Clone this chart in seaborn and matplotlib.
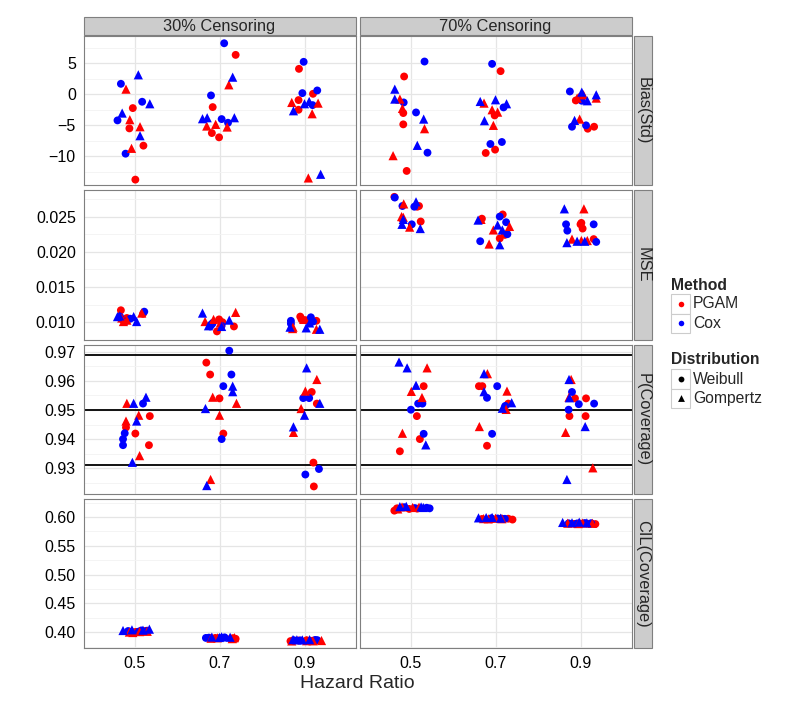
import numpy as np
import matplotlib
matplotlib.use('Agg')
import matplotlib.pyplot as plt
import pandas as pd
import seaborn as sns
from matplotlib.patches import Rectangle

hazard_ratios = [0.5, 0.7, 0.9]
censoring = ['30% Censoring', '70% Censoring']
measures = ['Bias(Std)', 'MSE', 'P(Coverage)', 'CIL(Coverage)']
method_names = ['PGAM', 'Cox']
dist_names = ['Weibull', 'Gompertz']

# order in each hazard ratio block (4 scenarios each):
# PGAM/Weibull, Cox/Weibull, PGAM/Gompertz, Cox/Gompertz
block_method = ['PGAM'] * 4 + ['Cox'] * 4 + ['PGAM'] * 4 + ['Cox'] * 4
block_dist = ['Weibull'] * 8 + ['Gompertz'] * 8

# jittered hazard ratio (x) and value (y) for each panel
bias30_hr = [0.496, 0.488, 0.521, 0.502, 0.468, 0.518, 0.460, 0.479,
             0.480, 0.489, 0.513, 0.493, 0.509, 0.536, 0.471, 0.513,
             0.738, 0.684, 0.682, 0.699, 0.711, 0.680, 0.705, 0.720,
             0.722, 0.670, 0.691, 0.718, 0.731, 0.660, 0.671, 0.735,
             0.887, 0.886, 0.920, 0.886, 0.898, 0.895, 0.930, 0.919,
             0.870, 0.932, 0.918, 0.909, 0.874, 0.900, 0.911, 0.938]
bias30_val = [-2.25, -5.52, -8.30, -13.77, 1.66, -1.23, -4.23, -9.59,
              0.80, -4.12, -5.25, -8.73, 3.11, -1.55, -3.05, -6.70,
              6.32, -2.09, -6.27, -6.96, 8.19, -0.21, -4.02, -4.61,
              1.50, -5.14, -4.87, -5.30, 2.73, -3.96, -3.80, -3.80,
              4.07, -0.96, 0.05, -2.52, 5.20, 0.16, 0.59, -1.77,
              -1.34, -1.45, -3.16, -13.50, -2.68, -1.55, -1.18, -12.91]

bias70_hr = [0.485, 0.483, 0.483, 0.491, 0.533, 0.484, 0.513, 0.540,
             0.475, 0.481, 0.533, 0.459, 0.463, 0.463, 0.531, 0.516,
             0.712, 0.698, 0.677, 0.699, 0.692, 0.719, 0.688, 0.715,
             0.673, 0.692, 0.695, 0.705, 0.664, 0.700, 0.726, 0.674,
             0.889, 0.901, 0.917, 0.932, 0.875, 0.903, 0.880, 0.913,
             0.892, 0.907, 0.937, 0.898, 0.903, 0.916, 0.886, 0.937]
bias70_val = [2.84, -3.05, -4.87, -12.37, 5.25, -1.34, -2.95, -9.43,
              -0.80, -2.30, -5.57, -9.91, 0.80, -0.80, -4.02, -8.25,
              3.70, -3.43, -9.48, -8.94, 4.87, -2.14, -8.03, -7.71,
              -1.45, -2.52, -5.03, -2.90, -1.18, -0.91, -1.55, -4.28,
              -1.02, -0.40, -5.57, -5.25, 0.43, -1.07, -5.25, -5.03,
              -0.64, -0.11, -0.64, -4.02, 0.32, -1.07, -4.23, -0.11]

mse30_hr = [0.468, 0.482, 0.473, 0.520, 0.466, 0.523, 0.478, 0.490,
            0.474, 0.482, 0.470, 0.517, 0.460, 0.498, 0.505, 0.465,
            0.694, 0.699, 0.707, 0.734, 0.678, 0.684, 0.705, 0.682,
            0.666, 0.738, 0.686, 0.702, 0.660, 0.723, 0.705, 0.674,
            0.890, 0.902, 0.928, 0.893, 0.868, 0.915, 0.868, 0.920,
            0.872, 0.928, 0.873, 0.898, 0.866, 0.904, 0.936, 0.912]
mse30_val = [0.0117, 0.0106, 0.0103, 0.0112, 0.0108, 0.0115, 0.0101, 0.0105,
             0.0101, 0.0103, 0.0106, 0.0113, 0.0108, 0.0108, 0.0101, 0.0109,
             0.0087, 0.0104, 0.0100, 0.0094, 0.0094, 0.0099, 0.0095, 0.0097,
             0.0101, 0.0114, 0.0104, 0.0099, 0.0113, 0.0103, 0.0094, 0.0095,
             0.0108, 0.0103, 0.0102, 0.0104, 0.0102, 0.0107, 0.0098, 0.0101,
             0.0091, 0.0090, 0.0093, 0.0104, 0.0093, 0.0092, 0.0090, 0.0099]

mse70_hr = [0.462, 0.520, 0.524, 0.516, 0.481, 0.509, 0.503, 0.463,
            0.484, 0.479, 0.498, 0.483, 0.513, 0.483, 0.480, 0.523,
            0.668, 0.717, 0.722, 0.710, 0.710, 0.725, 0.728, 0.664,
            0.666, 0.695, 0.733, 0.685, 0.659, 0.705, 0.716, 0.710,
            0.902, 0.905, 0.931, 0.900, 0.866, 0.931, 0.869, 0.937,
            0.908, 0.880, 0.902, 0.916, 0.862, 0.868, 0.892, 0.910]
mse70_val = [0.0278, 0.0265, 0.0243, 0.0264, 0.0265, 0.0264, 0.0239, 0.0277,
             0.0268, 0.0250, 0.0235, 0.0249, 0.0271, 0.0246, 0.0239, 0.0233,
             0.0247, 0.0253, 0.0224, 0.0219, 0.0250, 0.0242, 0.0225, 0.0215,
             0.0246, 0.0231, 0.0236, 0.0211, 0.0245, 0.0238, 0.0231, 0.0210,
             0.0241, 0.0233, 0.0218, 0.0239, 0.0239, 0.0239, 0.0230, 0.0214,
             0.0261, 0.0218, 0.0216, 0.0216, 0.0261, 0.0213, 0.0215, 0.0215]

cov30_hr = [0.536, 0.480, 0.502, 0.534, 0.520, 0.477, 0.473, 0.473,
            0.482, 0.480, 0.510, 0.512, 0.498, 0.527, 0.505, 0.495,
            0.669, 0.678, 0.700, 0.709, 0.723, 0.728, 0.709, 0.705,
            0.684, 0.740, 0.700, 0.679, 0.731, 0.731, 0.667, 0.670,
            0.917, 0.929, 0.921, 0.922, 0.897, 0.911, 0.902, 0.934,
            0.929, 0.902, 0.892, 0.874, 0.905, 0.900, 0.874, 0.936]
cov30_val = [0.9479, 0.9440, 0.9419, 0.9379, 0.9522, 0.9420, 0.9400, 0.9379,
             0.9523, 0.9462, 0.9482, 0.9343, 0.9523, 0.9544, 0.9462, 0.9320,
             0.9663, 0.9622, 0.9540, 0.9419, 0.9704, 0.9622, 0.9582, 0.9400,
             0.9544, 0.9523, 0.9482, 0.9261, 0.9582, 0.9563, 0.9505, 0.9240,
             0.9562, 0.9522, 0.9319, 0.9237, 0.9541, 0.9541, 0.9278, 0.9297,
             0.9605, 0.9565, 0.9505, 0.9423, 0.9645, 0.9482, 0.9442, 0.9523]

cov70_hr = [0.531, 0.515, 0.522, 0.475, 0.501, 0.518, 0.528, 0.531,
            0.539, 0.502, 0.527, 0.481, 0.473, 0.492, 0.513, 0.536,
            0.661, 0.669, 0.730, 0.680, 0.704, 0.680, 0.692, 0.723,
            0.681, 0.727, 0.725, 0.662, 0.673, 0.673, 0.716, 0.738,
            0.887, 0.913, 0.874, 0.912, 0.880, 0.872, 0.932, 0.896,
            0.878, 0.873, 0.865, 0.929, 0.873, 0.911, 0.868, 0.874]
cov70_val = [0.9582, 0.9479, 0.9400, 0.9358, 0.9501, 0.9522, 0.9522, 0.9418,
             0.9645, 0.9564, 0.9543, 0.9420, 0.9665, 0.9645, 0.9585, 0.9380,
             0.9582, 0.9582, 0.9522, 0.9377, 0.9582, 0.9542, 0.9418, 0.9514,
             0.9625, 0.9565, 0.9502, 0.9443, 0.9625, 0.9563, 0.9506, 0.9525,
             0.9540, 0.9540, 0.9479, 0.9479, 0.9562, 0.9501, 0.9522, 0.9520,
             0.9605, 0.9544, 0.9423, 0.9301, 0.9605, 0.9443, 0.9261, 0.9542]

cil30_hr = [0.497, 0.527, 0.503, 0.521, 0.516, 0.530, 0.510, 0.485,
            0.496, 0.512, 0.488, 0.530, 0.473, 0.494, 0.535, 0.520,
            0.727, 0.733, 0.738, 0.690, 0.668, 0.675, 0.700, 0.712,
            0.680, 0.735, 0.730, 0.695, 0.682, 0.705, 0.700, 0.725,
            0.867, 0.885, 0.915, 0.905, 0.875, 0.890, 0.925, 0.930,
            0.870, 0.905, 0.940, 0.920, 0.873, 0.882, 0.912, 0.895]
cil30_val = [0.3995, 0.4023, 0.4005, 0.4018, 0.4030, 0.4025, 0.4010, 0.4020,
             0.3994, 0.4010, 0.4002, 0.4015, 0.4029, 0.4041, 0.4052, 0.4035,
             0.3890, 0.3895, 0.3885, 0.3900, 0.3900, 0.3905, 0.3898, 0.3910,
             0.3895, 0.3905, 0.3888, 0.3902, 0.3915, 0.3920, 0.3908, 0.3912,
             0.3845, 0.3855, 0.3850, 0.3860, 0.3860, 0.3858, 0.3865, 0.3862,
             0.3848, 0.3852, 0.3855, 0.3850, 0.3872, 0.3868, 0.3870, 0.3866]

cil70_hr = [0.462, 0.468, 0.497, 0.516, 0.485, 0.510, 0.538, 0.545,
            0.470, 0.480, 0.505, 0.520, 0.475, 0.490, 0.525, 0.530,
            0.668, 0.690, 0.730, 0.740, 0.705, 0.715, 0.722, 0.690,
            0.672, 0.683, 0.700, 0.715, 0.660, 0.678, 0.692, 0.712,
            0.885, 0.900, 0.918, 0.935, 0.872, 0.892, 0.910, 0.925,
            0.870, 0.895, 0.905, 0.928, 0.858, 0.880, 0.897, 0.915]
cil70_val = [0.6110, 0.6150, 0.6140, 0.6145, 0.6170, 0.6155, 0.6160, 0.6150,
             0.6140, 0.6175, 0.6165, 0.6170, 0.6180, 0.6185, 0.6175, 0.6165,
             0.5965, 0.5960, 0.5970, 0.5955, 0.5975, 0.5970, 0.5968, 0.5978,
             0.5972, 0.5968, 0.5978, 0.5970, 0.5985, 0.5990, 0.5992, 0.5980,
             0.5880, 0.5885, 0.5882, 0.5878, 0.5890, 0.5888, 0.5895, 0.5892,
             0.5892, 0.5886, 0.5895, 0.5890, 0.5905, 0.5900, 0.5910, 0.5898]

coverage_band = [0.931, 0.95, 0.969]

panel_data = {
    ('Bias(Std)', 0): (bias30_hr, bias30_val),
    ('Bias(Std)', 1): (bias70_hr, bias70_val),
    ('MSE', 0): (mse30_hr, mse30_val),
    ('MSE', 1): (mse70_hr, mse70_val),
    ('P(Coverage)', 0): (cov30_hr, cov30_val),
    ('P(Coverage)', 1): (cov70_hr, cov70_val),
    ('CIL(Coverage)', 0): (cil30_hr, cil30_val),
    ('CIL(Coverage)', 1): (cil70_hr, cil70_val),
}

# y scale of each row: limits, major ticks, label format
row_axis = {
    'Bias(Std)': ((-14.7, 9.36), [-10, -5, 0, 5], '{:g}'),
    'MSE': ((0.00752, 0.02873), [0.010, 0.015, 0.020, 0.025], '{:.3f}'),
    'P(Coverage)': ((0.9211, 0.9725), [0.93, 0.94, 0.95, 0.96, 0.97], '{:.2f}'),
    'CIL(Coverage)': ((0.372, 0.6314), [0.40, 0.45, 0.50, 0.55, 0.60], '{:.2f}'),
}

palette = {'PGAM': '#ff0000', 'Cox': '#0000ff'}
marker_of = {'Weibull': 'o', 'Gompertz': '^'}
size_of = {'Weibull': 32, 'Gompertz': 44}

sns.set_style('white')
plt.rcParams['font.family'] = ['Liberation Sans', 'DejaVu Sans']

W, H = 800, 703
fig = plt.figure(figsize=(W / 100, H / 100), dpi=100)


def frac(x0, y0, x1, y1):
    # pixel box (top-left origin) -> figure fraction
    return [x0 / W, 1 - y1 / H, (x1 - x0) / W, (y1 - y0) / H]


col_x = [(83.5, 355.5), (359.5, 631.5)]
row_top = [36, 190.3, 344.6, 498.9]
row_h = 149.4
grey50 = '#7f7f7f'

for r, meas in enumerate(measures):
    lims, ticks, fmt = row_axis[meas]
    for c in range(2):
        x0, x1 = col_x[c]
        ax = fig.add_axes(frac(x0, row_top[r], x1, row_top[r] + row_h))
        hr, val = panel_data[(meas, c)]
        df = pd.DataFrame({'hr': hr, 'value': val,
                           'Method': block_method * 3,
                           'Distribution': block_dist * 3})
        ax.set_xlim(0.38, 1.02)
        ax.set_ylim(*lims)
        ax.set_xticks(hazard_ratios)
        ax.set_yticks(ticks)
        step = ticks[1] - ticks[0]
        minor = np.arange(ticks[0] - step / 2, lims[1], step)
        ax.set_yticks([m for m in minor if lims[0] < m < lims[1]], minor=True)
        ax.grid(True, which='major', color='#e5e5e5', linewidth=0.9)
        ax.grid(True, which='minor', axis='y', color='#f3f3f3', linewidth=0.6)
        ax.set_axisbelow(True)
        if meas == 'P(Coverage)':
            for b in coverage_band:
                ax.axhline(b, color='black', linewidth=1.3, zorder=1)
        for dist in dist_names:
            sub = df[df['Distribution'] == dist]
            sns.scatterplot(data=sub, x='hr', y='value', hue='Method',
                            palette=palette, marker=marker_of[dist],
                            s=size_of[dist], linewidth=0, ax=ax,
                            legend=False, zorder=3)
        ax.set_xlabel('')
        ax.set_ylabel('')
        for sp in ax.spines.values():
            sp.set_color(grey50)
            sp.set_linewidth(0.8)
        ax.tick_params(which='minor', length=0)
        ax.tick_params(which='major', length=3.5, width=0.8, color='#333333',
                       labelsize=11.5, labelcolor='black', pad=2)
        if c == 0:
            ax.set_yticklabels([fmt.format(t).replace('-', '\u2212') for t in ticks])
        else:
            ax.tick_params(axis='y', left=False, labelleft=False)
        if r == 3:
            ax.set_xticklabels([f'{h:.1f}' for h in hazard_ratios])
        else:
            ax.tick_params(axis='x', bottom=False, labelbottom=False)

# overlay in pixel coordinates for strips, axis title and legend
ov = fig.add_axes([0, 0, 1, 1])
ov.set_xlim(0, W)
ov.set_ylim(H, 0)
ov.axis('off')
ov.patch.set_alpha(0)

strip_fill = '#cccccc'
for c, lab in enumerate(censoring):
    x0, x1 = col_x[c]
    ov.add_patch(Rectangle((x0, 17.3), x1 - x0, 18.2, facecolor=strip_fill,
                           edgecolor=grey50, linewidth=0.8))
    ov.text((x0 + x1) / 2, 26.6, lab, ha='center', va='center', fontsize=11.8)
for r, meas in enumerate(measures):
    ov.add_patch(Rectangle((633.5, row_top[r]), 18.5, row_h, facecolor=strip_fill,
                           edgecolor=grey50, linewidth=0.8))
    ov.text(642.8, row_top[r] + row_h / 2, meas, ha='center', va='center',
            rotation=270, fontsize=11.8)

ov.text(357.5, 683, 'Hazard Ratio', ha='center', va='center', fontsize=14)

# legends
ov.text(671.5, 285, 'Method', ha='left', va='center', fontsize=11.3,
        fontweight='bold')
for i, m in enumerate(method_names):
    yc = 304 + i * 19.3
    ov.add_patch(Rectangle((671, yc - 9.6), 19, 19.3, facecolor='white',
                           edgecolor='#cccccc', linewidth=0.8))
    ov.scatter([680.5], [yc], s=16, color=palette[m], marker='o', linewidth=0)
    ov.text(693, yc, m, ha='left', va='center', fontsize=11.3)

ov.text(671.5, 360, 'Distribution', ha='left', va='center', fontsize=11.3,
        fontweight='bold')
for i, d in enumerate(dist_names):
    yc = 379 + i * 19.3
    ov.add_patch(Rectangle((671, yc - 9.6), 19, 19.3, facecolor='white',
                           edgecolor='#cccccc', linewidth=0.8))
    ov.scatter([680.5], [yc], s=size_of[d] * 0.55, color='black',
               marker=marker_of[d], linewidth=0)
    ov.text(693, yc, d, ha='left', va='center', fontsize=11.3)

fig.savefig('out.png', dpi=100, facecolor='white')
